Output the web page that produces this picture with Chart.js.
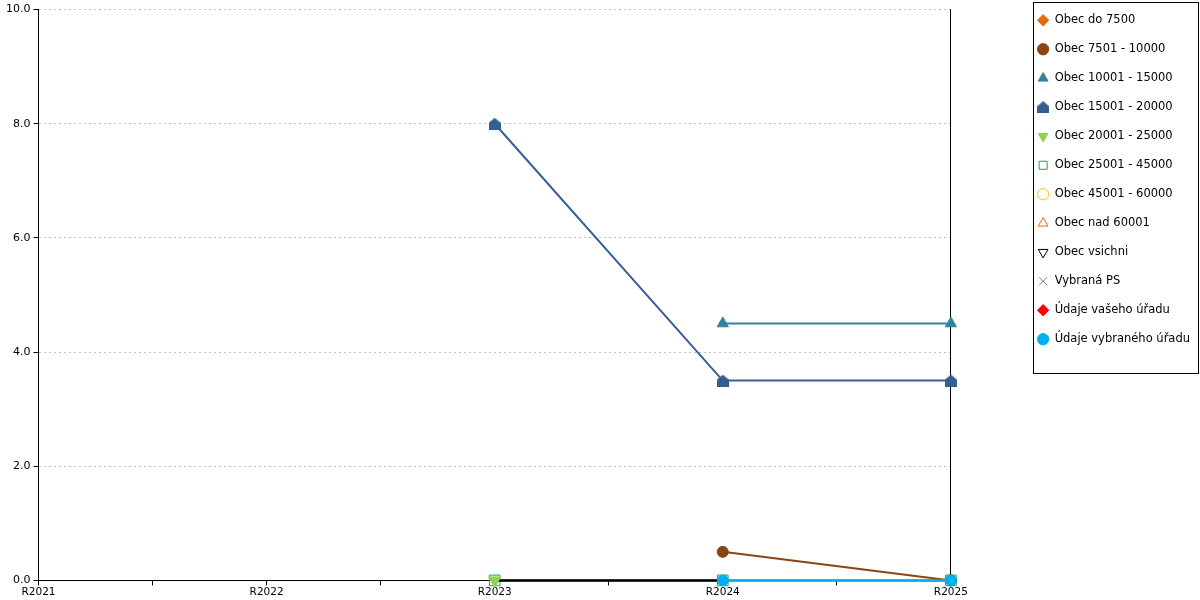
<!DOCTYPE html>
<html>
<head>
<meta charset="utf-8">
<script src="https://cdn.jsdelivr.net/npm/chart.js@4.4.0/dist/chart.umd.min.js"></script>
<style>
  html, body { margin: 0; padding: 0; background: #fff; }
</style>
</head>
<body>
<canvas id="chart" width="1200" height="600"></canvas>
<script>
const years = ['R2021', 'R2022', 'R2023', 'R2024', 'R2025'];

// values per category (null = no value)
const obecDo7500 = [null, null, null, null, 0];
const obec7501 = [null, null, null, 0.5, 0];
const obec10001 = [null, null, null, 4.5, 4.5];
const obec15001 = [null, null, 8.0, 3.5, 3.5];
const obec20001 = [null, null, 0, null, null];
const obec25001 = [null, null, 0, 0, 0];
const obec45001 = [null, null, null, null, null];
const obecNad60001 = [null, null, null, null, null];
const obecVsichni = [null, null, 0, 0, null];
const vybranaPS = [null, null, null, null, null];
const vasUrad = [null, null, null, null, null];
const vybranyUrad = [null, null, null, 0, 0];

Chart.defaults.font.family = '"DejaVu Sans", sans-serif';
Chart.defaults.color = '#000';

// house shaped marker (no such built-in point style)
function houseIcon(color) {
    const c = document.createElement('canvas');
    c.width = 12;
    c.height = 12;
    const g = c.getContext('2d');
    g.fillStyle = color;
    g.beginPath();
    g.moveTo(6, 0);
    g.lineTo(12, 5);
    g.lineTo(12, 12);
    g.lineTo(0, 12);
    g.lineTo(0, 5);
    g.closePath();
    g.fill();
    return c;
}

const toPoints = (values) => values.map((v, i) => ({ x: i, y: v }));

const series = (label, values, color, style, extra) => Object.assign({
    label: label,
    data: toPoints(values),
    borderColor: color,
    backgroundColor: color,
    pointBackgroundColor: color,
    pointBorderColor: color,
    pointStyle: style,
    pointRadius: 5.5,
    pointBorderWidth: 1,
    borderWidth: 2,
    spanGaps: false,
    clip: false
}, extra || {});

// order: lower number is painted later (on top)
const datasets = [
    series('Obec do 7500', obecDo7500, '#E46C0A', 'rectRot', { order: 9 }),
    series('Obec 7501 - 10000', obec7501, '#8B4513', 'circle', { order: 8 }),
    series('Obec 10001 - 15000', obec10001, '#31849B', 'triangle', { pointRadius: 6.5, order: 7 }),
    series('Obec 15001 - 20000', obec15001, '#365F91', houseIcon('#365F91'), { order: 6 }),
    series('Obec 20001 - 25000', obec20001, '#92D050', 'triangle', { pointRadius: 7, pointRotation: 180, order: 10 }),
    series('Obec 25001 - 45000', obec25001, '#00B050', 'rect', { pointBackgroundColor: 'rgba(255,255,255,0)', pointRadius: 7.5, order: 12 }),
    series('Obec 45001 - 60000', obec45001, '#FFC000', 'circle', { pointBackgroundColor: '#fff', order: 5 }),
    series('Obec nad 60001', obecNad60001, '#FF6600', 'triangle', { pointBackgroundColor: '#fff', pointRadius: 6.5, order: 4 }),
    series('Obec vsichni', obecVsichni, '#000000', 'triangle', { pointBackgroundColor: '#fff', pointRadius: 4, pointRotation: 180, borderWidth: 2.5, order: 11 }),
    series('Vybraná PS', vybranaPS, '#808080', 'crossRot', { pointRadius: 6.5, order: 3 }),
    series('Údaje vašeho úřadu', vasUrad, '#FF0000', 'rectRot', { order: 2 }),
    series('Údaje vybraného úřadu', vybranyUrad, '#00B0F0', 'circle', { borderWidth: 2.5, order: 1 })
];

// frame around the legend + lift legend to the top edge
const legendFrame = {
    id: 'legendFrame',
    afterLayout(chart) {
        const lg = chart.legend;
        const lift = lg.top + 3;
        lg.top -= lift;
        lg.bottom -= lift;
    },
    afterDraw(chart) {
        const boxes = chart.legend.legendHitBoxes;
        if (!boxes || !boxes.length) return;
        const first = boxes[0];
        const last = boxes[boxes.length - 1];
        const ctx = chart.ctx;
        ctx.save();
        ctx.strokeStyle = '#000';
        ctx.lineWidth = 1;
        const left = Math.round(first.left - 4) + 0.5;
        const top = Math.round(first.top - 13) + 0.5;
        const bottom = Math.round(last.top + last.height + 28) + 0.5;
        const right = chart.width - 1.5;
        ctx.strokeRect(left, top, right - left, bottom - top);
        ctx.restore();
    }
};

new Chart(document.querySelector('#chart').getContext('2d'), {
    type: 'line',
    data: { datasets: datasets },
    plugins: [legendFrame],
    options: {
        responsive: false,
        animation: false,
        layout: { padding: { top: 1, left: 3, right: 0, bottom: 0 } },
        plugins: {
            tooltip: { enabled: false },
            legend: {
                position: 'right',
                align: 'start',
                labels: {
                    usePointStyle: true,
                    boxHeight: 8,
                    padding: 17.5,
                    font: { size: 11.5 },
                    color: '#000',
                    sort: (a, b) => a.datasetIndex - b.datasetIndex
                }
            }
        },
        scales: {
            x: {
                type: 'linear',
                min: 0,
                max: years.length - 1,
                ticks: {
                    stepSize: 0.5,
                    autoSkip: false,
                    maxRotation: 0,
                    padding: 1,
                    font: { size: 10.5 },
                    color: '#000',
                    callback: (v) => Number.isInteger(v) ? years[v] : ''
                },
                grid: { drawOnChartArea: false, tickLength: 5, tickColor: '#000' },
                border: { color: '#000', width: 1 }
            },
            y: {
                min: 0,
                max: 10,
                ticks: {
                    stepSize: 2,
                    padding: 3,
                    font: { size: 11 },
                    color: '#000',
                    callback: (v) => v.toFixed(1)
                },
                grid: { color: '#c0c0c0', tickColor: '#000', tickLength: 5, tickBorderDash: [] },
                border: { color: '#000', width: 1, dash: [2, 3] }
            },
            yRight: {
                position: 'right',
                min: 0,
                max: 10,
                ticks: { display: false },
                grid: { display: false },
                border: { color: '#000', width: 1 },
                afterFit: (scale) => { scale.width = 69; }
            }
        }
    }
});
</script>
</body>
</html>
